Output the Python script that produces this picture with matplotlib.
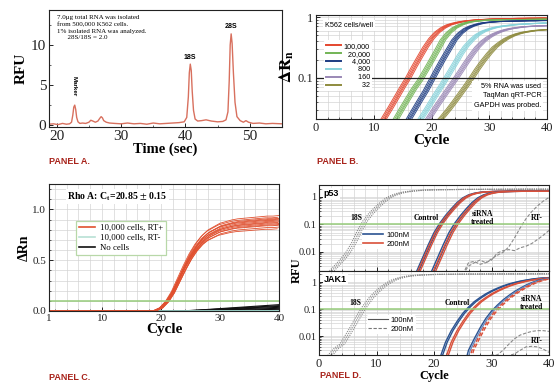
import matplotlib
matplotlib.use('Agg')
import numpy as np
import matplotlib.pyplot as plt
from matplotlib.ticker import MultipleLocator, LogLocator, NullFormatter, FixedLocator, FixedFormatter

plt.rcParams['font.family'] = 'Liberation Serif'
plt.rcParams['mathtext.fontset'] = 'stix'

SANS = 'Liberation Sans'
PANEL_RED = '#a8231b'
GRID = '#d4d4d4'
THRESH_GREEN = '#96cc7a'

# ---------------- Panel A: electropherogram ----------------
time_a = [18.8, 19.5, 20.2, 20.9, 21.5, 22.0, 22.3, 22.5, 22.65, 22.8, 22.95, 23.1, 23.3, 23.6, 24.0,
          24.5, 25.0, 25.3, 25.6, 26.0, 26.4, 26.7, 26.9, 27.1, 27.3, 27.7, 28.2, 29.0, 30.0, 31.0,
          32.0, 33.0, 34.0, 35.0, 36.0, 37.0, 38.0, 39.0, 39.8, 40.2, 40.45, 40.6, 40.75, 40.9,
          41.05, 41.25, 41.5, 41.9, 42.5, 43.2, 44.0, 45.0, 45.8, 46.3, 46.6, 46.8, 46.95, 47.1,
          47.25, 47.45, 47.7, 48.0, 48.5, 49.0, 49.4, 49.8, 50.5, 51.5, 52.5, 53.5, 55.0]
rfu_a = [0.05, 0.1, 0.0, 0.15, 0.05, 0.1, 0.3, 1.2, 2.2, 2.45, 1.9, 0.9, 0.35, 0.15, 0.2,
         0.15, 0.3, 0.55, 0.45, 0.3, 0.45, 0.8, 1.0, 0.85, 0.5, 0.3, 0.2, 0.15, 0.1, 0.2,
         0.1, 0.15, 0.05, 0.2, 0.1, 0.15, 0.2, 0.25, 0.35, 0.9, 3.5, 6.5, 7.6, 6.8,
         4.2, 1.8, 0.7, 0.45, 0.5, 0.6, 0.45, 0.35, 0.4, 0.6, 1.6, 5.5, 10.0, 11.4,
         10.2, 6.5, 2.8, 1.0, 0.5, 0.3, 0.5, 0.3, 0.15, 0.2, 0.1, 0.15, 0.1]

# ---------------- Panel B: K562 dilution series ----------------
cycles_b = list(range(8, 41))
cells_b = ['100,000', '\u200720,000', '\u2007\u20074,000', '\u2007\u2007\u2007\u2008800',
           '\u2007\u2007\u2007\u2008160', '\u2007\u2007\u2007\u2007\u200832']
colors_b = ['#e4462e', '#72b455', '#1d3c82', '#86d2da', '#9a88b6', '#8e8b3e']
red_b = [0.006, 0.008, 0.011, 0.016, 0.023, 0.033, 0.048, 0.07, 0.10, 0.15, 0.22, 0.32, 0.44, 0.56,
         0.66, 0.74, 0.79, 0.83, 0.86, 0.88, 0.9, 0.91, 0.92, 0.93, 0.935, 0.94, 0.945, 0.95, 0.95,
         0.955, 0.955, 0.96, 0.96]
green_b = [0.003, 0.004, 0.006, 0.008, 0.011, 0.015, 0.022, 0.032, 0.046, 0.066, 0.09, 0.13, 0.19,
           0.28, 0.42, 0.55, 0.66, 0.74, 0.8, 0.84, 0.86, 0.88, 0.89, 0.895, 0.9, 0.905, 0.905,
           0.91, 0.91, 0.915, 0.915, 0.92, 0.92]
blue_b = [0.002, 0.0025, 0.003, 0.004, 0.005, 0.007, 0.01, 0.014, 0.02, 0.029, 0.042, 0.06, 0.09,
          0.135, 0.2, 0.29, 0.42, 0.54, 0.64, 0.71, 0.76, 0.8, 0.82, 0.835, 0.845, 0.85, 0.855,
          0.86, 0.865, 0.87, 0.87, 0.875, 0.875]
cyan_b = [0.001, 0.0012, 0.0015, 0.002, 0.0027, 0.0036, 0.005, 0.007, 0.01, 0.014, 0.02, 0.028,
          0.04, 0.057, 0.08, 0.115, 0.165, 0.24, 0.33, 0.42, 0.51, 0.58, 0.63, 0.67, 0.7, 0.72,
          0.74, 0.755, 0.765, 0.775, 0.785, 0.79, 0.8]
purple_b = [0.001, 0.001, 0.0012, 0.0015, 0.002, 0.0027, 0.0036, 0.005, 0.007, 0.0095, 0.013,
            0.018, 0.025, 0.035, 0.048, 0.066, 0.09, 0.125, 0.175, 0.24, 0.32, 0.4, 0.47, 0.53,
            0.58, 0.62, 0.65, 0.67, 0.69, 0.7, 0.71, 0.715, 0.72]
olive_b = [0.001, 0.001, 0.001, 0.0012, 0.0015, 0.002, 0.0027, 0.0036, 0.005, 0.0065, 0.0085,
           0.011, 0.014, 0.018, 0.023, 0.03, 0.04, 0.054, 0.073, 0.1, 0.14, 0.19, 0.25, 0.32,
           0.38, 0.44, 0.49, 0.53, 0.56, 0.58, 0.6, 0.61, 0.62]
rep_shift_b = [-0.5, -0.25, 0.0, 0.2, 0.45]

# ---------------- Panel C: Rho A replicates ----------------
cycles_c = list(range(1, 41))
rt_plus_c = [0.0] * 18 + [0.004, 0.03, 0.09, 0.18, 0.3, 0.42, 0.53, 0.62, 0.69, 0.74, 0.77, 0.8,
                          0.815, 0.83, 0.84, 0.845, 0.85, 0.855, 0.86, 0.865, 0.865, 0.87]
rt_minus_c = [0.0] * 24 + [0.001, 0.001, 0.002, 0.002, 0.003, 0.003, 0.004, 0.004, 0.005, 0.005,
                           0.006, 0.006, 0.007, 0.007, 0.008, 0.008]
no_cells_c = [0.0] * 22 + [0.001, 0.002, 0.004, 0.006, 0.009, 0.012, 0.015, 0.018, 0.021, 0.024,
                           0.027, 0.03, 0.033, 0.036, 0.039, 0.042, 0.045, 0.048]
rep_scale_c = [0.93, 0.95, 0.97, 0.98, 0.99, 1.0, 1.01, 1.02, 1.03, 1.04, 1.05, 1.06, 1.08]
rep_shift_c = [-0.3, 0.1, -0.1, 0.25, 0.0, -0.2, 0.3, 0.1, -0.15, 0.05, 0.2, -0.25, 0.0]
black_scale_c = [0.15, 0.35, 0.55, 0.75, 0.95, 1.1, 1.3]

# ---------------- Panel D: p53 / JAK1 siRNA ----------------
cycles_d = list(range(0, 41))
cycles_rt = list(range(25, 41))
p53_18s = [0.001, 0.0012, 0.0018, 0.003, 0.005, 0.009, 0.02, 0.055, 0.13, 0.24, 0.4, 0.62, 0.9,
           1.15, 1.35, 1.5, 1.6, 1.68, 1.74, 1.78, 1.8, 1.82, 1.83, 1.84, 1.85, 1.86, 1.86, 1.87,
           1.87, 1.88, 1.88, 1.88, 1.89, 1.89, 1.89, 1.9, 1.9, 1.9, 1.9, 1.9, 1.9]
p53_ctrl = [0.0005] * 17 + [0.002, 0.006, 0.018, 0.05, 0.11, 0.21, 0.37, 0.62, 0.92, 1.18, 1.36,
                            1.47, 1.53, 1.56, 1.58, 1.59, 1.6, 1.6, 1.6, 1.6, 1.6, 1.6, 1.6, 1.6]
p53_rt1 = [0.0015, 0.004, 0.0045, 0.0035, 0.004, 0.0055, 0.0075, 0.0095, 0.015, 0.032, 0.075,
           0.16, 0.29, 0.47, 0.7, 0.95]
p53_rt2 = [0.0015, 0.003, 0.004, 0.005, 0.004, 0.005, 0.009, 0.011, 0.012, 0.011, 0.014, 0.016,
           0.02, 0.028, 0.04, 0.06]
jak_18s = [0.001, 0.0013, 0.002, 0.0035, 0.005, 0.011, 0.025, 0.06, 0.13, 0.25, 0.42, 0.65, 0.92,
           1.2, 1.42, 1.6, 1.72, 1.8, 1.86, 1.9, 1.93, 1.95, 1.96, 1.97, 1.98, 1.99, 2.0, 2.0, 2.0,
           2.01, 2.01, 2.02, 2.02, 2.02, 2.03, 2.03, 2.03, 2.04, 2.04, 2.04, 2.05]
jak_ctrl = [0.0005] * 21 + [0.0015, 0.006, 0.016, 0.035, 0.07, 0.12, 0.19, 0.27, 0.37, 0.48, 0.6,
                            0.73, 0.86, 0.98, 1.1, 1.2, 1.3, 1.38, 1.44, 1.48]
jak_treat = [0.0005] * 26 + [0.003, 0.008, 0.02, 0.045, 0.085, 0.14, 0.22, 0.32, 0.45, 0.6, 0.78,
                             0.97, 1.15, 1.3, 1.42]
jak_rt1 = [0.0008, 0.001, 0.0012, 0.0015, 0.0018, 0.002, 0.002, 0.003, 0.005, 0.008, 0.011, 0.013,
           0.015, 0.016, 0.016, 0.015]
jak_rt2 = [0.0008, 0.001, 0.001, 0.001, 0.0012, 0.0013, 0.0015, 0.0017, 0.0019, 0.0022, 0.003,
           0.004, 0.0042, 0.004, 0.0033, 0.0025]
shift_18s = [-0.4, 0.0, 0.4]
BLUE_D = '#2b5391'
RED_D = '#d9503a'
GRAY_D = '#8a8a8a'

W, H = 560, 382
fig = plt.figure(figsize=(W / 100, H / 100), dpi=100)


def px_axes(l, t, r, b):
    return fig.add_axes([l / W, 1 - b / H, (r - l) / W, (b - t) / H])


def style_spines(ax):
    for s in ax.spines.values():
        s.set_linewidth(0.8)
        s.set_color('#222222')
    ax.tick_params(which='both', direction='in', colors='#222222', pad=2)
    ax.tick_params(which='major', length=3, width=0.7)
    ax.tick_params(which='minor', length=1.6, width=0.5)


def cycle_grid(ax):
    ax.xaxis.set_minor_locator(MultipleLocator(2))
    ax.grid(True, which='both', color=GRID, linewidth=0.5)
    ax.set_axisbelow(True)


# ---------- A ----------
axA = px_axes(49, 10, 282, 127)
axA.plot(time_a, rfu_a, color='#d8705e', lw=1.0)
axA.set_xlim(18.8, 55)
axA.set_ylim(-0.3, 14.4)
axA.set_xticks([20, 30, 40, 50])
axA.set_yticks([0, 5, 10])
axA.xaxis.set_minor_locator(MultipleLocator(5))
axA.yaxis.set_minor_locator(MultipleLocator(2.5))
style_spines(axA)
axA.tick_params(labelsize=11)
axA.set_xlabel('Time (sec)', fontsize=10.5, fontweight='bold', labelpad=0)
axA.set_ylabel('RFU', fontsize=11, fontweight='bold', labelpad=2)
axA.text(0.035, 0.96, '7.0\u03bcg total RNA was isolated\nfrom 500,000 K562 cells.\n'
         '1% isolated RNA was analyzed.\n      28S/18S = 2.0',
         transform=axA.transAxes, fontsize=5, va='top', linespacing=1.45)
axA.text(40.75, 8.3, '18S', fontsize=5, fontweight='bold', family=SANS, ha='center')
axA.text(47.1, 12.1, '28S', fontsize=5, fontweight='bold', family=SANS, ha='center')
axA.text(22.7, 4.8, 'Marker', fontsize=4.5, fontweight='bold', family=SANS, rotation=-90,
         ha='center', va='center')
fig.text(49 / W, 1 - 162 / H, 'PANEL A.', family=SANS, fontsize=6.5, fontweight='bold',
         color=PANEL_RED, va='center')

# ---------- B ----------
axB = px_axes(316, 15, 547, 119)
series_b = [red_b, green_b, blue_b, cyan_b, purple_b, olive_b]
handles = []
for vals, col, lab in zip(series_b, colors_b, cells_b):
    for sh in rep_shift_b:
        axB.plot(np.array(cycles_b) + sh, vals, color=col, lw=0.7, alpha=0.9)
    h, = axB.plot([], [], color=col, lw=1.4, label=lab)
    handles.append(h)
axB.axhline(0.1, color='#222222', lw=0.9)
axB.set_yscale('log')
axB.set_xlim(0, 40)
axB.set_ylim(0.021, 1.08)
axB.set_xticks([0, 10, 20, 30, 40])
axB.yaxis.set_major_locator(FixedLocator([0.1, 1]))
axB.yaxis.set_major_formatter(FixedFormatter(['0.1', '1']))
axB.yaxis.set_minor_locator(LogLocator(subs=np.arange(2, 10)))
axB.yaxis.set_minor_formatter(NullFormatter())
cycle_grid(axB)
style_spines(axB)
axB.tick_params(labelsize=9)
axB.set_xlabel('Cycle', fontsize=11, fontweight='bold', labelpad=0)
axB.set_ylabel(r'$\mathbf{\Delta R_n}$', fontsize=12, labelpad=1)
axB.text(0.04, 0.9, 'K562 cells/well', transform=axB.transAxes, fontsize=5.2, family=SANS,
         va='center', bbox=dict(facecolor='white', edgecolor='none', pad=1.5))
legB = axB.legend(handles=handles, loc='upper left', bbox_to_anchor=(0.02, 0.79), frameon=True,
                  prop={'family': SANS, 'size': 5.2}, labelspacing=0.12, handlelength=2.0,
                  handletextpad=0.4, borderpad=0.3)
legB.get_frame().set_edgecolor('none')
legB.get_frame().set_alpha(1)
axB.text(0.975, 0.1, '5% RNA was used\nTaqMan qRT-PCR\nGAPDH was probed.',
         transform=axB.transAxes, fontsize=5.2, family=SANS, ha='right', va='bottom',
         linespacing=1.45, bbox=dict(facecolor='white', edgecolor='none', pad=1.5))
fig.text(317 / W, 1 - 162 / H, 'PANEL B.', family=SANS, fontsize=6.5, fontweight='bold',
         color=PANEL_RED, va='center')

# ---------- C ----------
axC = px_axes(49, 184, 279, 311)
for sc in black_scale_c:
    axC.plot(cycles_c, np.array(no_cells_c) * sc, color='#111111', lw=0.8)
axC.plot(cycles_c, [0.0] * len(cycles_c), color='#111111', lw=1.0, ls=(0, (3, 2)))
for sc in black_scale_c[:3]:
    axC.plot(cycles_c, np.array(rt_minus_c) * sc, color='#9ed6cc', lw=0.7)
for sc, sh in zip(rep_scale_c, rep_shift_c):
    axC.plot(np.array(cycles_c) + sh, np.array(rt_plus_c) * sc, color='#e0502f', lw=0.6)
axC.axhline(0.1, color=THRESH_GREEN, lw=1.1)
axC.set_xlim(1, 40)
axC.set_ylim(0, 1.25)
axC.set_xticks([1, 10, 20, 30, 40])
axC.set_yticks([0.0, 0.5, 1.0])
axC.set_yticklabels(['0.0', '0.5', '1.0'])
axC.yaxis.set_minor_locator(MultipleLocator(0.1))
cycle_grid(axC)
style_spines(axC)
axC.tick_params(labelsize=8)
axC.set_xlabel('Cycle', fontsize=11, fontweight='bold', labelpad=0)
axC.set_ylabel('\u0394Rn', fontsize=10, fontweight='bold', labelpad=1)
axC.text(0.08, 0.9, r'Rho A: C$_\mathbf{t}$=20.85 $\pm$ 0.15', transform=axC.transAxes,
         fontsize=7, fontweight='bold', va='center',
         bbox=dict(facecolor='white', edgecolor='none', pad=1))
hC = [plt.Line2D([], [], color='#e0502f', lw=1.2),
      plt.Line2D([], [], color='#b8e0d4', lw=1.2),
      plt.Line2D([], [], color='#111111', lw=1.2)]
legC = axC.legend(hC, ['10,000 cells, RT+', '10,000 cells, RT-', 'No cells'], loc='upper left',
                  bbox_to_anchor=(0.1, 0.745), prop={'size': 6.3}, labelspacing=0.2,
                  handlelength=1.8, handletextpad=0.5, borderpad=0.35, fancybox=False)
legC.get_frame().set_edgecolor('#b8d8a8')
legC.get_frame().set_linewidth(0.9)
legC.get_frame().set_alpha(1)
fig.text(49 / W, 1 - 378 / H, 'PANEL C.', family=SANS, fontsize=6.5, fontweight='bold',
         color=PANEL_RED, va='center')

# ---------- D ----------
axD1 = px_axes(319, 185, 549, 271)
axD2 = px_axes(319, 271, 549, 355)

for sh in shift_18s:
    axD1.plot(np.array(cycles_d) + sh, p53_18s, color=GRAY_D, lw=0.8, ls=(0, (1, 1)))
    axD2.plot(np.array(cycles_d) + sh, jak_18s, color=GRAY_D, lw=0.8, ls=(0, (1, 1)))

# p53
for sh, col in [(0.0, BLUE_D), (0.35, BLUE_D), (0.2, RED_D), (0.6, RED_D),
                (2.6, BLUE_D), (3.0, BLUE_D), (2.9, RED_D), (3.3, RED_D)]:
    axD1.plot(np.array(cycles_d) + sh, p53_ctrl, color=col, lw=1.0)
axD1.plot(cycles_rt, p53_rt1, color=GRAY_D, lw=0.8, ls=(0, (3, 1.5)))
axD1.plot(cycles_rt, p53_rt2, color=GRAY_D, lw=0.8, ls=(0, (3, 1.5)))

# JAK1
for sh, col in [(0.0, BLUE_D), (0.3, BLUE_D), (1.0, RED_D), (1.3, RED_D)]:
    axD2.plot(np.array(cycles_d) + sh, jak_ctrl, color=col, lw=1.0)
for sh, col, ls in [(0.0, BLUE_D, '-'), (0.3, '#6a8cc0', '-'), (0.6, RED_D, (0, (3, 1.5))),
                    (0.9, RED_D, (0, (3, 1.5)))]:
    axD2.plot(np.array(cycles_d) + sh, jak_treat, color=col, lw=1.0, ls=ls)
axD2.plot(cycles_rt, jak_rt1, color=GRAY_D, lw=0.8, ls=(0, (3, 1.5)))
axD2.plot(cycles_rt, jak_rt2, color=GRAY_D, lw=0.8, ls=(0, (3, 1.5)))

for ax, top in [(axD1, 2.7), (axD2, 2.6)]:
    ax.axhline(0.1, color=THRESH_GREEN, lw=1.1)
    ax.set_yscale('log')
    ax.set_xlim(0, 40)
    ax.set_ylim(0.002, top)
    ax.set_xticks([0, 10, 20, 30, 40])
    ax.yaxis.set_major_locator(FixedLocator([0.01, 0.1, 1]))
    ax.yaxis.set_major_formatter(FixedFormatter(['0.01', '0.1', '1']))
    ax.yaxis.set_minor_locator(LogLocator(subs=np.arange(2, 10)))
    ax.yaxis.set_minor_formatter(NullFormatter())
    cycle_grid(ax)
    style_spines(ax)
    ax.tick_params(axis='y', labelsize=7.5)
    ax.tick_params(axis='x', labelsize=9)
axD1.tick_params(labelbottom=False)
axD2.set_xlabel('Cycle', fontsize=9, fontweight='bold', labelpad=0)
fig.text(297 / W, 1 - 270 / H, 'RFU', fontsize=9, fontweight='bold', rotation=90,
         ha='center', va='center')

for ax, name in [(axD1, 'p53'), (axD2, 'JAK1')]:
    ax.text(0.02, 0.9, name, transform=ax.transAxes, fontsize=6.5, fontweight='bold',
            family=SANS, va='center', bbox=dict(facecolor='white', edgecolor='none', pad=0.8))

lab = dict(fontsize=5.5, fontweight='bold', ha='center', va='center')
axD1.text(6.5, 0.17, '18S', **lab)
axD1.text(18.7, 0.17, 'Control', **lab)
axD1.text(28.5, 0.17, 'siRNA\ntreated', linespacing=0.9, **lab)
axD1.text(37.9, 0.17, 'RT-', **lab)
axD2.text(6.3, 0.17, '18S', **lab)
axD2.text(24.1, 0.17, 'Control', **lab)
axD2.text(37.0, 0.17, 'siRNA\ntreated', linespacing=0.9, **lab)
axD2.text(37.9, 0.0065, 'RT-', **lab)

h1 = [plt.Line2D([], [], color=BLUE_D, lw=1.2), plt.Line2D([], [], color=RED_D, lw=1.2)]
l1 = axD1.legend(h1, ['100nM', '200nM'], loc='upper left', bbox_to_anchor=(0.17, 0.52),
                 prop={'family': SANS, 'size': 5.5}, labelspacing=0.2, handlelength=2.6,
                 handletextpad=0.4, borderpad=0.2)
h2 = [plt.Line2D([], [], color='#555555', lw=0.8),
      plt.Line2D([], [], color='#777777', lw=0.8, ls=(0, (3, 1.5)))]
l2 = axD2.legend(h2, ['100nM', '200nM'], loc='upper left', bbox_to_anchor=(0.19, 0.52),
                 prop={'family': SANS, 'size': 5.5}, labelspacing=0.2, handlelength=2.6,
                 handletextpad=0.4, borderpad=0.2)
for lg in (l1, l2):
    lg.get_frame().set_edgecolor('none')
    lg.get_frame().set_alpha(1)
fig.text(320 / W, 1 - 376 / H, 'PANEL D.', family=SANS, fontsize=6.5, fontweight='bold',
         color=PANEL_RED, va='center')

fig.savefig('out.png', dpi=100)
